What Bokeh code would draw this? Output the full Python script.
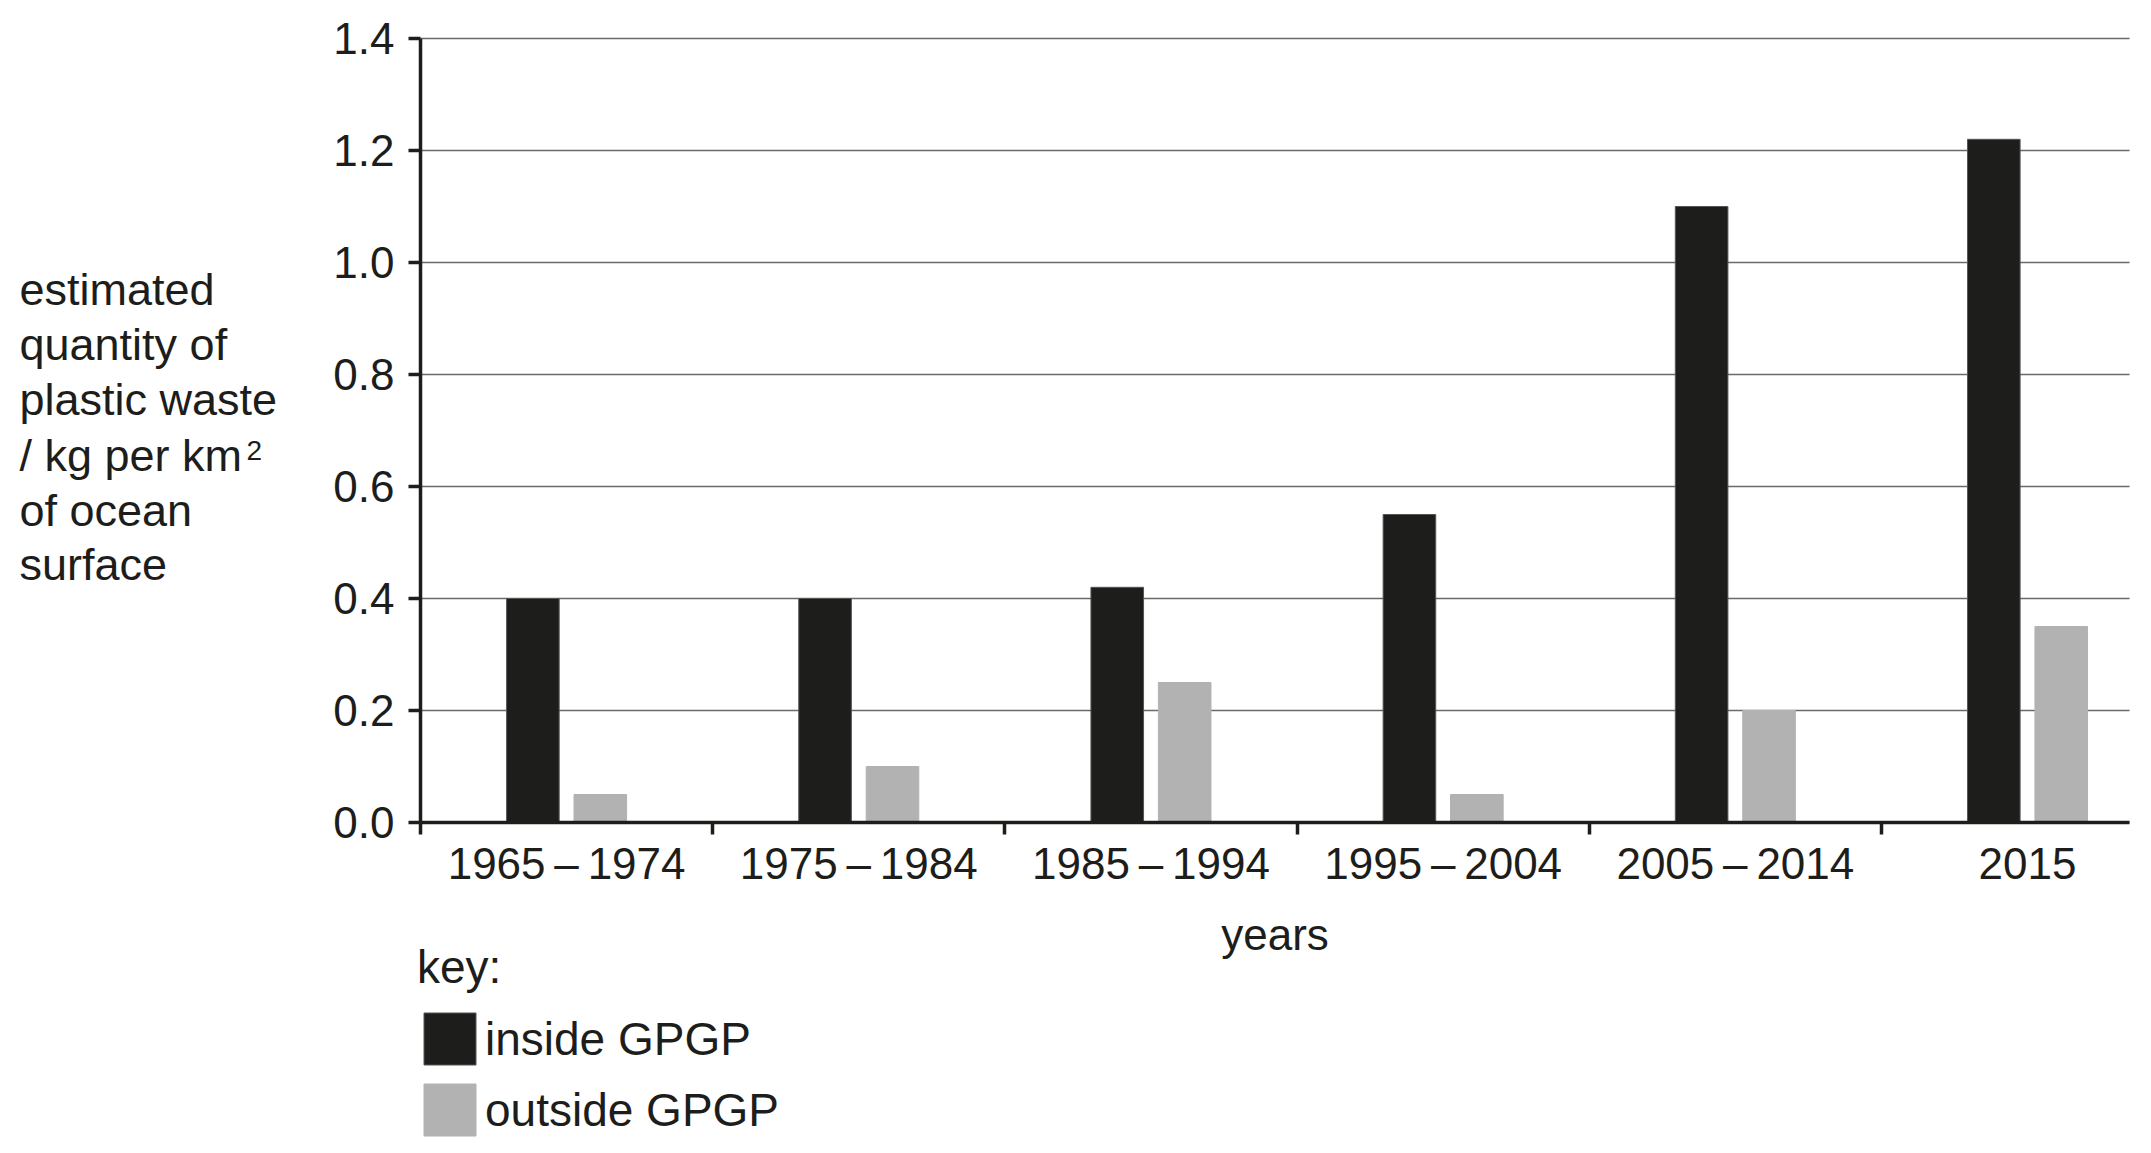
from bokeh.plotting import figure
from bokeh.models import (Range1d, FixedTicker, Legend, LegendItem, Label,
                          CustomJSTickFormatter, NumeralTickFormatter, ColumnDataSource)
from bokeh.transform import dodge
from bokeh.embed import file_html
from bokeh.resources import INLINE

# ---- data ----
periods = ["1965\u2009\u2013\u20091974", "1975\u2009\u2013\u20091984", "1985\u2009\u2013\u20091994",
           "1995\u2009\u2013\u20092004", "2005\u2009\u2013\u20092014", "2015"]
inside_gpgp = [0.40, 0.40, 0.42, 0.55, 1.10, 1.22]
outside_gpgp = [0.05, 0.10, 0.25, 0.05, 0.20, 0.35]
y_ticks = [0.0, 0.2, 0.4, 0.6, 0.8, 1.0, 1.2, 1.4]
series_names = ["inside GPGP", "outside GPGP"]
y_label_lines = ["estimated", "quantity of", "plastic waste", "/ kg per km", "of ocean", "surface"]

INK = "#1d1d1b"
GREY = "#b2b2b2"
FONT = "Liberation Sans"

# ---- page geometry (pixels) ----
W, H = 2151, 1153
AX_LEFT, AX_RIGHT, AX_TOP, AX_BOTTOM = 420, 2129, 38, 822
X_END = 5.849                       # category-axis extent (6th category is cut short)
Y_END = y_ticks[-1]
px_x = (AX_RIGHT - AX_LEFT) / X_END
px_y = (AX_BOTTOM - AX_TOP) / Y_END

centers = [i + 0.5 for i in range(len(periods))]
src = ColumnDataSource(dict(center=centers, inside=inside_gpgp, outside=outside_gpgp))
grid_src = ColumnDataSource(dict(y=y_ticks, x0=[0] * len(y_ticks), x1=[X_END] * len(y_ticks)))

p = figure(width=W, height=H, min_border=0, title=None,
           x_range=Range1d(-AX_LEFT / px_x, (W - AX_LEFT) / px_x),
           y_range=Range1d(-(H - AX_BOTTOM) / px_y, AX_BOTTOM / px_y),
           output_backend="svg", toolbar_location=None, tools="")
p.outline_line_color = None
p.background_fill_color = "white"
p.border_fill_color = "white"
p.xgrid.visible = False
p.ygrid.visible = False

# horizontal gridlines at the y tick values, spanning the plotting area only
p.segment(x0="x0", x1="x1", y0="y", y1="y", source=grid_src,
          line_color="#6a6a6a", line_width=1.5)

r_in = p.vbar(x=dodge("center", -0.1154, range=p.x_range), top="inside", width=0.18,
              source=src, fill_color=INK, line_color="#555555", line_width=1)
r_out = p.vbar(x=dodge("center", 0.1154, range=p.x_range), top="outside", width=0.18,
               source=src, fill_color=GREY, line_color=GREY, line_width=1)

# y axis (anchored at x = 0)
ya = p.yaxis[0]
ya.fixed_location = 0
ya.bounds = (0, Y_END)
ya.ticker = FixedTicker(ticks=y_ticks)
ya.formatter = NumeralTickFormatter(format="0.0")
ya.axis_line_width = 3.5
ya.axis_line_color = INK
ya.major_tick_line_color = INK
ya.major_tick_line_width = 3.5
ya.major_tick_out = 12
ya.major_tick_in = 0
ya.minor_tick_line_color = None
ya.major_label_text_font = FONT
ya.major_label_text_font_size = "44px"
ya.major_label_text_color = INK
ya.major_label_standoff = 14

# x axis (anchored at y = 0)
xa = p.xaxis[0]
xa.fixed_location = 0
xa.bounds = (0, X_END)
xa.ticker = FixedTicker(ticks=centers, minor_ticks=[0, 1, 2, 3, 4, 5])
xa.formatter = CustomJSTickFormatter(args=dict(labels=periods),
                                     code="return labels[Math.floor(tick)];")
xa.axis_line_width = 3.5
xa.axis_line_color = INK
xa.major_tick_line_color = None
xa.major_tick_out = 0
xa.major_tick_in = 0
xa.minor_tick_line_color = INK
xa.minor_tick_line_width = 3.5
xa.minor_tick_out = 12
xa.minor_tick_in = 0
xa.major_label_text_font = FONT
xa.major_label_text_font_size = "44px"
xa.major_label_text_color = INK
xa.major_label_standoff = 4
xa.axis_label = "years"
xa.axis_label_text_font = FONT
xa.axis_label_text_font_size = "44px"
xa.axis_label_text_font_style = "normal"
xa.axis_label_text_color = INK
xa.axis_label_standoff = 19

# y-axis title, horizontal lines at the left
baselines_from_top = [289, 344, 399, 455, 510, 564]
for line, b in zip(y_label_lines, baselines_from_top):
    p.add_layout(Label(x=19, y=H - b, x_units="screen", y_units="screen", text=line,
                       text_font=FONT, text_font_size="45px", text_color=INK,
                       text_baseline="alphabetic", text_align="left"))
p.add_layout(Label(x=246, y=H - 450, x_units="screen", y_units="screen", text="2",
                   text_font=FONT, text_font_size="28px", text_color=INK,
                   text_baseline="alphabetic", text_align="left"))

# key (legend swatch is drawn at 80% of the glyph box)
legend = Legend(items=[LegendItem(label=series_names[0], renderers=[r_in]),
                       LegendItem(label=series_names[1], renderers=[r_out])],
                title="key:", location=(AX_LEFT - 3, H - 1142), orientation="vertical")
legend.title_text_font = FONT
legend.title_text_font_size = "46px"
legend.title_text_font_style = "normal"
legend.title_text_color = INK
legend.title_standoff = 12
legend.label_text_font = FONT
legend.label_text_font_size = "46px"
legend.label_text_color = INK
legend.glyph_width = 65
legend.glyph_height = 65
legend.label_height = 65
legend.label_standoff = 3
legend.spacing = 6
legend.padding = 0
legend.margin = 0
legend.border_line_color = None
legend.background_fill_alpha = 0
p.add_layout(legend)

open("out.html", "w").write(file_html(p, INLINE))
